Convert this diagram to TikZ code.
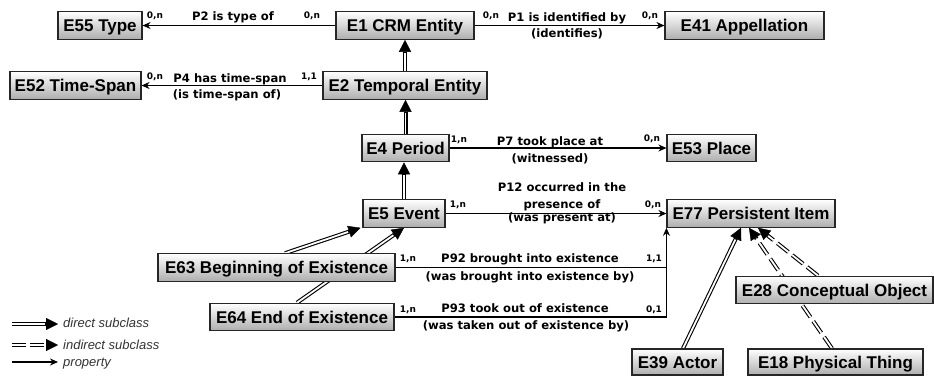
\documentclass[tikz,border=0pt]{standalone}
\usepackage{fontspec}
\newfontfamily\boxfnt{Liberation Sans}
\newfontfamily\lblfnt{DejaVu Sans}
\usetikzlibrary{arrows.meta,backgrounds}
\tikzset{
 cls/.style={draw=black!85, line width=1.1pt, top color=white, bottom color=black!32,
   inner sep=0pt, font=\boxfnt\bfseries\fontsize{17}{19}\selectfont,
   text height=12.2pt, text depth=0pt, minimum height=27.5pt},
 lbl/.style={font=\lblfnt\bfseries\fontsize{11.6}{13}\selectfont, inner sep=0pt, anchor=base, text=black},
 card/.style={font=\lblfnt\bfseries\fontsize{9}{10}\selectfont, inner sep=0pt, anchor=base},
 propline/.style={draw=black, line width=1.3pt},
 prop/.style={propline, -{Stealth[length=8pt,width=7pt]}},
 direct/.style={draw=black, line width=4pt,
   -{Triangle[length=12pt,width=12pt,line width=0.4pt]},
   postaction={draw=white, line width=1.8pt, -, shorten >=13pt}},
 indirect/.style={direct, dash pattern=on 14pt off 5pt},
 leg/.style={font=\boxfnt\itshape\fontsize{13}{15}\selectfont, text=black!80, inner sep=0pt, anchor=base west},
}
\begin{document}
\begin{tikzpicture}[x=1pt,y=-1pt]
\useasboundingbox (0,0) rectangle (934,376);
% classes
\node[cls, minimum width=84pt]  (E55) at (100,25.5) {E55 Type};
\node[cls, minimum width=138pt] (E1)  at (405,25.5) {E1 CRM Entity};
\node[cls, minimum width=159pt] (E41) at (744.5,25.5) {E41 Appellation};
\node[cls, minimum width=131pt] (E52) at (75.5,85.5) {E52 Time-Span};
\node[cls, minimum width=164pt] (E2)  at (405,85.5) {E2 Temporal Entity};
\node[cls, minimum width=87pt]  (E4)  at (405.5,148) {E4 Period};
\node[cls, minimum width=89pt]  (E53) at (711.5,148) {E53 Place};
\node[cls, minimum width=82pt]  (E5)  at (404,213.5) {E5 Event};
\node[cls, minimum width=168pt] (E77) at (751,213.5) {E77 Persistent Item};
\node[cls, minimum width=237pt] (E63) at (276.5,267.5) {E63 Beginning of Existence};
\node[cls, minimum width=184pt] (E64) at (302,317) {E64 End of Existence};
\node[cls, minimum width=197pt] (E28) at (834.5,290) {E28 Conceptual Object};
\node[cls, minimum width=91pt, minimum height=26pt]  (E39) at (677.5,362) {E39 Actor};
\node[cls, minimum width=175pt, minimum height=26pt] (E18) at (835.5,362) {E18 Physical Thing};
% connectors
\begin{scope}[on background layer]
\draw[prop] (E1.west) -- (E55.east);
\draw[prop] (E1.east) -- (E41.west);
\draw[prop] (E2.west) -- (E52.east);
\draw[prop] (E4.east) -- (E53.west);
\draw[prop] (E5.east) -- (E77.west);
\draw[propline] (E63.east) -- (E63.east -| E77.south west);
\draw[prop] (E64.east) -| (E77.south west);
\draw[direct] (E2.north) -- (E1.south);
\draw[direct] (E4.north) -- (E4.north |- E2.south);
\draw[direct] (E5.north) -- (E5.north |- E4.south);
\draw[direct] ([xshift=8.5pt]E63.north) -- ([xshift=-2pt]E5.south west);
\draw[direct] ([xshift=-5pt]E64.north) -- (E5.south);
\draw[direct] ([xshift=5.5pt]E39.north) -- ([xshift=-10pt]E77.south);
\draw[indirect] ([xshift=-3.5pt]E18.north) -- ([xshift=-2pt]E77.south);
\draw[indirect] ([xshift=-16.5pt]E28.north) -- ([xshift=7pt]E77.south);
\end{scope}
% property labels
\node[card] (c2a) at (155,18.3) {0,n};
\node[lbl]  (p2)  at (233,20.7) {P2 is type of};
\node[card] (c2b) at (312,18.3) {0,n};
\node[card] (c1a) at (491,18.3) {0,n};
\node[lbl]  (p1)  at (567,21) {P1 is identified by};
\node[lbl]  (p1i) at (567,37) {(identifies)};
\node[card] (c1b) at (650,18.3) {0,n};
\node[card] (c4a) at (155,79) {0,n};
\node[lbl]  (p4)  at (230,82.7) {P4 has time-span};
\node[card] (c4b) at (309,79) {1,1};
\node[lbl]  (p4i) at (227,98.5) {(is time-span of)};
\node[card] (c7a) at (459,142.5) {1,n};
\node[lbl]  (p7)  at (550,145) {P7 took place at};
\node[lbl]  (p7i) at (550,162) {(witnessed)};
\node[card] (c7b) at (652,141.7) {0,n};
\node[card] (c12a) at (458,207.5) {1,n};
\node[lbl]  (p12a) at (562,191) {P12 occurred in the};
\node[lbl]  (p12b) at (562,208) {presence of};
\node[lbl]  (p12i) at (562,221.7) {(was present at)};
\node[card] (c12b) at (653,207) {0,n};
\node[card] (c92a) at (408,261.7) {1,n};
\node[lbl]  (p92)  at (530,262.7) {P92 brought into existence};
\node[card] (c92b) at (654,261.7) {1,1};
\node[lbl]  (p92i) at (530,280.7) {(was brought into existence by)};
\node[card] (c93a) at (408,312) {1,n};
\node[lbl]  (p93)  at (525,312.7) {P93 took out of existence};
\node[card] (c93b) at (654,312) {0,1};
\node[lbl]  (p93i) at (526,329) {(was taken out of existence by)};
% legend
\coordinate (L1a) at (12,324); \coordinate (L1b) at (58,324);
\coordinate (L2a) at (12,345); \coordinate (L2b) at (58,345);
\coordinate (L3a) at (12,362); \coordinate (L3b) at (58,362);
\draw[direct] (L1a) -- (L1b);
\draw[indirect, dash pattern=on 14pt off 4pt] (L2a) -- (L2b);
\draw[prop] (L3a) -- (L3b);
\node[leg] (L1t) at (63,327.7) {direct subclass};
\node[leg] (L2t) at (63,349) {indirect subclass};
\node[leg] (L3t) at (63,366.5) {property};
\end{tikzpicture}
\end{document}
